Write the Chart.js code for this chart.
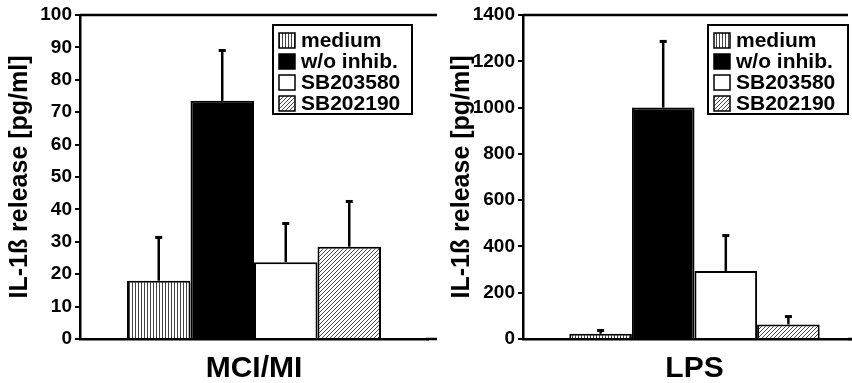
<!DOCTYPE html>
<html>
<head>
<meta charset="utf-8">
<script src="https://cdn.jsdelivr.net/npm/chart.js@4/dist/chart.umd.min.js"></script>
<style>
  html, body { margin: 0; padding: 0; background: #fff; overflow: hidden; }
  #wrap { position: relative; width: 852px; height: 383px; overflow: hidden; }
  #c1 { position: absolute; left: 0; top: 0; }
  #c2 { position: absolute; left: 440px; top: 0; }
</style>
</head>
<body>
<div id="wrap">
  <canvas id="c1" width="440" height="383"></canvas>
  <canvas id="c2" width="430" height="383"></canvas>
</div>
<script>
let seriesNames = ['medium', 'w/o inhib.', 'SB203580', 'SB202190']
let mciLabel = ['MCI/MI']
let mciValues = [18, 73.5, 23.7, 28.5]
let mciErrors = [13.5, 15.7, 12.1, 14.1]
let lpsLabel = ['LPS']
let lpsValues = [23, 1000, 294, 63]
let lpsErrors = [16, 288, 155, 36]
let mciTicks = [0, 100, 10]
let lpsTicks = [0, 1400, 200]

let font = "'Liberation Sans', Arial, sans-serif"

function makePattern(kind) {
    let c = document.createElement('canvas')
    let p = c.getContext('2d')
    if (kind === 'vert') {
        c.width = 3; c.height = 1
        p.fillStyle = '#fff'; p.fillRect(0, 0, 3, 1)
        p.fillStyle = '#444'; p.fillRect(0, 0, 1, 1)
    } else {
        c.width = 4; c.height = 4
        p.fillStyle = '#fff'; p.fillRect(0, 0, 4, 4)
        p.fillStyle = '#444'
        for (let i = 0; i < 4; i++) p.fillRect(i, 3 - i, 1, 1)
    }
    return p.createPattern(c, 'repeat')
}

let fills = [makePattern('vert'), '#000', '#fff', makePattern('diag')]

// error bars, top/bottom frame lines and the boxed legend
let extras = {
    id: 'extras',
    afterDatasetsDraw(chart, args, opts) {
        let ctx = chart.ctx
        let y = chart.scales.y
        let area = chart.chartArea
        ctx.save()
        ctx.strokeStyle = '#000'
        ctx.fillStyle = '#000'
        chart.data.datasets.forEach((ds, i) => {
            let bar = chart.getDatasetMeta(i).data[0]
            let top = y.getPixelForValue(ds.data[0] + ds.err)
            ctx.lineWidth = 2.5
            ctx.beginPath()
            ctx.moveTo(bar.x, bar.y)
            ctx.lineTo(bar.x, top)
            ctx.stroke()
            ctx.fillRect(bar.x - 3.5, top - 1, 7, 3)
        })
        ctx.lineWidth = 2.5
        ctx.beginPath()
        ctx.moveTo(area.left, area.top)
        ctx.lineTo(opts.lineEnd, area.top)
        ctx.moveTo(area.right - 2, area.bottom)
        ctx.lineTo(opts.lineEnd, area.bottom)
        ctx.stroke()

        // legend
        let L = opts.legend
        ctx.fillStyle = '#fff'
        ctx.fillRect(L.x, L.y, L.w, L.h)
        ctx.lineWidth = 2
        ctx.strokeRect(L.x, L.y, L.w, L.h)
        ctx.font = 'bold 21px ' + font
        ctx.textBaseline = 'middle'
        chart.data.datasets.forEach((ds, i) => {
            let cy = L.y + 15 + i * 21
            ctx.fillStyle = ds.backgroundColor
            ctx.fillRect(L.x + 6, cy - 7, 16, 15)
            ctx.lineWidth = 1.5
            ctx.strokeRect(L.x + 6, cy - 7, 16, 15)
            ctx.fillStyle = '#000'
            ctx.fillText(ds.label, L.x + 28, cy + 1)
        })
        ctx.restore()
    }
}

function makeChart(id, labels, values, errors, ticks, yWidth, titlePad, padRight, catPct, lineEnd, legend) {
    let datasets = seriesNames.map((name, i) => ({
        label: name,
        data: [values[i]],
        err: errors[i],
        backgroundColor: fills[i],
        borderColor: '#000',
        borderWidth: 2,
        borderSkipped: 'bottom',
        barPercentage: 1,
        categoryPercentage: catPct
    }))
    return new Chart(document.getElementById(id), {
        type: 'bar',
        data: { labels: labels, datasets: datasets },
        plugins: [extras],
        options: {
            responsive: false,
            animation: false,
            layout: { padding: { top: 15, right: padRight, left: 0, bottom: 0 } },
            plugins: {
                legend: { display: false },
                tooltip: { enabled: false },
                extras: { lineEnd: lineEnd, legend: legend }
            },
            scales: {
                x: {
                    grid: { display: true, drawOnChartArea: false, drawTicks: false },
                    border: { color: '#000', width: 2.5 },
                    ticks: { color: '#000', padding: 12, font: { family: font, size: 30, weight: 'bold' } },
                    afterFit: s => { s.height = 44 }
                },
                y: {
                    min: ticks[0],
                    max: ticks[1],
                    ticks: {
                        stepSize: ticks[2],
                        color: '#000',
                        padding: 3,
                        callback: v => String(v),
                        font: { family: font, size: 19, weight: 'bold' }
                    },
                    grid: { drawOnChartArea: false, tickLength: 5, color: '#000', lineWidth: 2 },
                    border: { color: '#000', width: 2.5 },
                    title: {
                        display: true,
                        text: 'IL-1ß release [pg/ml]',
                        color: '#000',
                        padding: { top: titlePad, bottom: 0 },
                        font: { family: font, size: 25, weight: 'bold' }
                    },
                    afterFit: s => { s.width = yWidth }
                }
            }
        }
    })
}

let chart1 = makeChart('c1', mciLabel, mciValues, mciErrors, mciTicks, 80, 5, 12, 0.73, 437,
    { x: 273, y: 25, w: 139, h: 89 })
let chart2 = makeChart('c2', lpsLabel, lpsValues, lpsErrors, lpsTicks, 83, 7, 4, 0.73, 408,
    { x: 268, y: 25, w: 140, h: 89 })
</script>
</body>
</html>
